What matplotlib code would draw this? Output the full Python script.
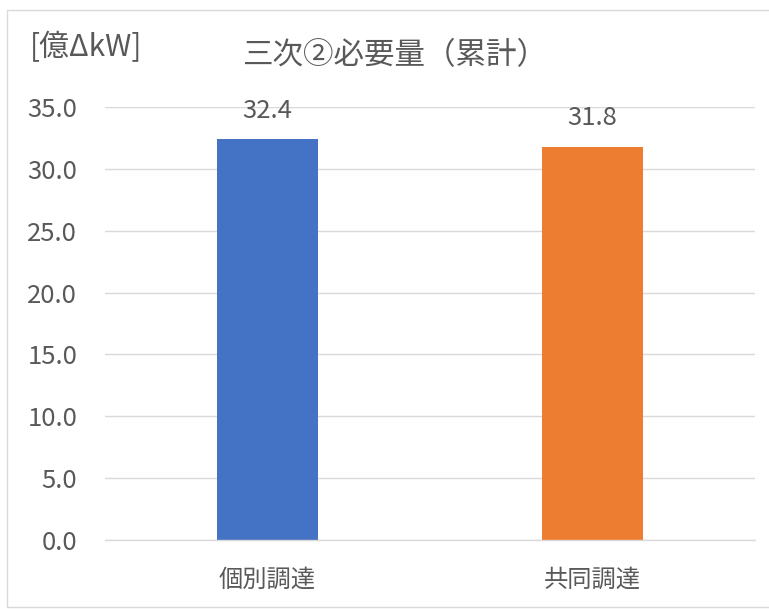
import matplotlib
matplotlib.use("Agg")
import matplotlib.pyplot as plt
from matplotlib.patches import Rectangle

plt.rcParams['font.family'] = ['Noto Sans CJK JP', 'DejaVu Sans']

categories = ['個別調達', '共同調達']
values = [32.4, 31.8]
colors = ['#4472C4', '#ED7D31']
yticks = [0, 5, 10, 15, 20, 25, 30, 35]
title = '三次②必要量（累計）'
unit_label = '[億ΔkW]'

text_color = '#595959'
grid_color = '#D9D9D9'

W, H = 769, 609
fig = plt.figure(figsize=(W / 100, H / 100), dpi=100)
fig.patch.set_facecolor('white')

# outer chart frame
fig.patches.append(Rectangle((7 / W, 2 / H), (W - 6) / W, (H - 12) / H,
                             transform=fig.transFigure, fill=False,
                             edgecolor='#D9D9D9', linewidth=1.0))

ax = fig.add_axes([105 / W, (H - 540) / H, 650 / W, 433 / H])
x = list(range(len(categories)))
bars = ax.bar(x, values, width=0.31, color=colors, zorder=3)

ax.set_xlim(-0.5, len(categories) - 0.5)
ax.set_ylim(0, 35)
ax.set_yticks(yticks)
ax.set_yticklabels([f'{v:.1f}' for v in yticks])
ax.set_xticks(x)
ax.set_xticklabels(categories)
ax.tick_params(axis='y', length=0, pad=20, labelsize=18.5, labelcolor=text_color)
ax.tick_params(axis='x', length=0, pad=19, labelsize=17.5, labelcolor=text_color)

ax.grid(axis='y', color=grid_color, linewidth=1.0, zorder=0)
for s in ['top', 'right', 'left']:
    ax.spines[s].set_visible(False)
ax.spines['bottom'].set_color(grid_color)
ax.spines['bottom'].set_linewidth(1.0)
ax.spines['bottom'].set_zorder(4)

for xi, v in zip(x, values):
    ax.annotate(f'{v:.1f}', (xi, v), xytext=(0, 11), textcoords='offset points',
                ha='center', va='bottom', fontsize=18.5, color=text_color)

fig.text(395 / W, 1 - 56 / H, title, ha='center', va='center',
         fontsize=22, color=text_color)
fig.text(30 / W, 1 - 48 / H, unit_label, ha='left', va='center',
         fontsize=21.5, color=text_color)

fig.savefig('out.png', dpi=100, facecolor='white')
